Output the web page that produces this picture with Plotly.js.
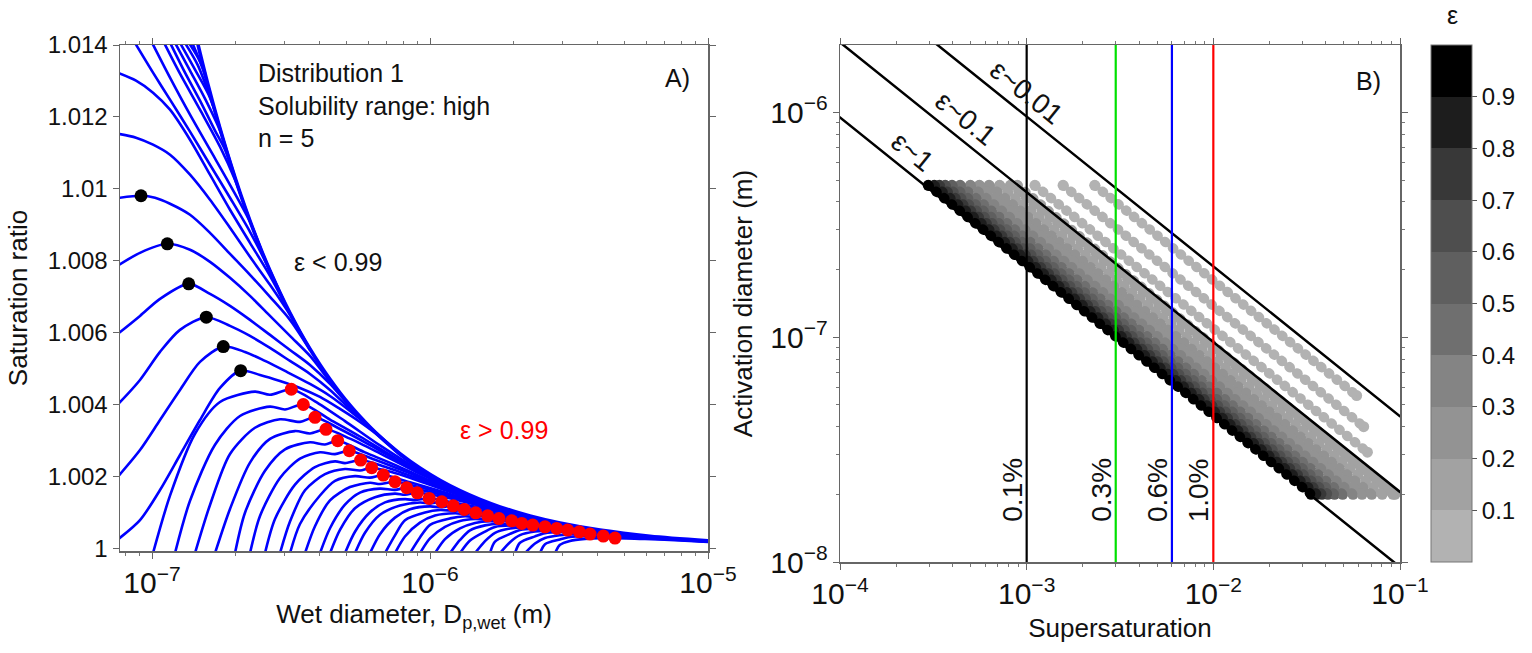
<!DOCTYPE html>
<html><head><meta charset="utf-8">
<script src="https://cdn.plot.ly/plotly-3.0.1.min.js"></script>
<style>
html,body{margin:0;padding:0;background:#fff;}
#chart{width:1532px;height:653px;}
#chart .scatterlayer path.js-line{stroke-linecap:round;stroke-linejoin:round;}
</style></head><body><div id="chart"></div>
<script>
// ---------------- Panel A data: Koehler-type curves (wet diameter in m, saturation ratio) ----------------
const fanCurveDiameters = [
 [8.757e-8,1.0083e-7,1.1606e-7,1.3697e-7,1.6164e-7,1.9076e-7,2.2512e-7,2.6568e-7,3.0082e-7],
 [1.0083e-7,1.1606e-7,1.3697e-7,1.6164e-7,1.9076e-7,2.2512e-7,2.549e-7,2.7691e-7],
 [1.1135e-7,1.2608e-7,1.4879e-7,1.756e-7,1.9882e-7,2.2512e-7,2.4456e-7],
 [1.1702e-7,1.3141e-7,1.4879e-7,1.6847e-7,1.8302e-7,2.0723e-7],
 [1.2196e-7,1.3697e-7,1.5508e-7,1.756e-7,1.9882e-7],
 [1.2713e-7,1.4276e-7,1.6164e-7,1.8302e-7],
 [1.3251e-7,1.4635e-7,1.6847e-7],
 [1.3697e-7,1.4879e-7,1.6164e-7],
 [1.4042e-7,1.5508e-7],
 [7.5e-8,8.757e-8,1.0083e-7,1.1606e-7,1.3697e-7,1.6164e-7,1.9076e-7,2.2512e-7,2.6568e-7,3.1354e-7,3.4062e-7],
 [7.5e-8,8.757e-8,1.0083e-7,1.1606e-7,1.3697e-7,1.6164e-7,1.9076e-7,2.2512e-7,2.6568e-7,3.1354e-7,3.7003e-7]
];
const fanCurveRatios = [
 [1.014011,1.013231,1.012479,1.011588,1.010669,1.009749,1.008802,1.007716,1.006816],
 [1.014011,1.013092,1.012061,1.011086,1.010111,1.009081,1.008042,1.007404],
 [1.014011,1.013203,1.012201,1.011170,1.010251,1.009106,1.008382],
 [1.014011,1.013231,1.012451,1.011616,1.011086,1.009894],
 [1.014011,1.013287,1.012507,1.011616,1.010312],
 [1.014011,1.013315,1.012535,1.011201],
 [1.014011,1.013426,1.012170],
 [1.014011,1.013538,1.012683],
 [1.014011,1.013220],
 [1.013231,1.013008,1.012674,1.012201,1.011365,1.010390,1.009415,1.008496,1.007577,1.006538,1.006017],
 [1.011532,1.011421,1.011226,1.010947,1.010390,1.009694,1.008914,1.008106,1.007326,1.006490,1.005538]
];
const blackCurveDiameters = [
 [7.5e-8,9.127e-8,1.025e-7,1.1606e-7,1.3697e-7,1.6164e-7,1.9076e-7,2.2512e-7,2.6568e-7,3.1354e-7,3.7003e-7],
 [7.5e-8,9.052e-8,1.1349e-7,1.3697e-7,1.6164e-7,1.9076e-7,2.2512e-7,2.6568e-7,3.1354e-7,3.7003e-7,4.3669e-7],
 [7.5e-8,9.052e-8,1.0683e-7,1.3551e-7,1.6164e-7,1.9076e-7,2.2512e-7,2.6568e-7,3.1354e-7,3.7003e-7,4.3669e-7,5.1535e-7],
 [7.5e-8,9.052e-8,1.0683e-7,1.2608e-7,1.5675e-7,1.9076e-7,2.2512e-7,2.6568e-7,3.1354e-7,3.7003e-7,4.3669e-7,5.1535e-7,6.0819e-7],
 [7.5e-8,9.052e-8,1.0683e-7,1.2608e-7,1.4879e-7,1.8046e-7,2.1599e-7,2.549e-7,3.0082e-7,3.7003e-7,4.3669e-7,5.1535e-7,6.0819e-7,7.7972e-7],
 [7.5e-8,9.052e-8,1.0683e-7,1.2608e-7,1.4879e-7,1.756e-7,2.0843e-7,2.4456e-7,2.8862e-7,3.4062e-7,4.0198e-7,4.7439e-7,5.5985e-7,6.607e-7,7.7972e-7,1.0e-6]
];
const blackCurveRatios = [
 [1.009741,1.009805,1.009749,1.009582,1.009276,1.008774,1.008189,1.007604,1.006992,1.006351,1.005515],
 [1.007850,1.008217,1.008468,1.008301,1.007967,1.007521,1.007019,1.006462,1.005905,1.005348,1.004624],
 [1.005950,1.006462,1.006936,1.007354,1.007075,1.006741,1.006351,1.005933,1.005515,1.005097,1.004568,1.003928],
 [1.003980,1.004680,1.005460,1.006072,1.006426,1.006184,1.005905,1.005571,1.005209,1.004847,1.004401,1.003872,1.003365],
 [1.001970,1.002730,1.003565,1.004401,1.005181,1.005607,1.005460,1.005209,1.004930,1.004568,1.004234,1.003816,1.003357,1.002618],
 [1.000230,1.000780,1.001616,1.002591,1.003565,1.004457,1.004939,1.004819,1.004652,1.004457,1.004206,1.003872,1.003510,1.003092,1.002591,1.002006]
];
const redCurveDiameters = [
 [1.008e-7,1.1606e-7,1.4276e-7,1.756e-7,2.3464e-7,2.6568e-7,3.169e-7,3.8567e-7,4.9445e-7,6.607e-7,1.0e-6],
 [1.2096e-7,1.3697e-7,1.6847e-7,2.0723e-7,2.6568e-7,3.0082e-7,3.5006e-7,4.3669e-7,5.5985e-7,7.4809e-7,1.1323e-6],
 [1.4276e-7,1.6164e-7,1.9076e-7,2.3464e-7,2.8862e-7,3.4062e-7,3.8567e-7,4.7439e-7,6.0819e-7,8.1268e-7,1.2301e-6],
 [1.6847e-7,1.9076e-7,2.2512e-7,2.6568e-7,3.268e-7,3.7003e-7,4.2245e-7,5.1535e-7,6.607e-7,8.8285e-7,1.3363e-6],
 [1.9882e-7,2.1599e-7,2.549e-7,3.0082e-7,3.7003e-7,4.1897e-7,4.6544e-7,5.8352e-7,7.4809e-7,1.0e-6,1.513e-6],
 [2.2512e-7,2.4456e-7,2.8862e-7,3.4062e-7,4.0198e-7,4.5515e-7,5.124e-7,6.339e-7,8.1268e-7,1.0864e-6,1.6437e-6],
 [2.549e-7,2.7691e-7,3.268e-7,3.8567e-7,4.5515e-7,4.9445e-7,5.631e-7,6.8863e-7,8.8285e-7,1.1802e-6,1.7856e-6],
 [2.8862e-7,3.1354e-7,3.5502e-7,4.1897e-7,4.9445e-7,5.5985e-7,6.168e-7,7.4809e-7,9.5907e-7,1.2821e-6,1.9398e-6],
 [3.1354e-7,3.4062e-7,4.0198e-7,4.5515e-7,5.3714e-7,6.0819e-7,6.79e-7,8.4704e-7,1.0864e-6,1.4517e-6,2.1964e-6],
 [3.5502e-7,3.8567e-7,4.3669e-7,5.1535e-7,6.0819e-7,6.607e-7,7.4809e-7,9.2017e-7,1.1802e-6,1.577e-6,2.386e-6],
 [4.0198e-7,4.3669e-7,4.9445e-7,5.5985e-7,6.607e-7,7.4809e-7,8.242e-7,1.0e-6,1.2821e-6,1.7132e-6,2.592e-6],
 [4.3669e-7,4.7439e-7,5.3714e-7,6.339e-7,7.4809e-7,8.1268e-7,8.999e-7,1.0864e-6,1.3928e-6,1.8611e-6,2.8158e-6],
 [4.9445e-7,5.3714e-7,6.0819e-7,6.8863e-7,8.1268e-7,8.8285e-7,9.93e-7,1.2301e-6,1.577e-6,2.1073e-6,3.1883e-6],
 [5.3714e-7,5.8352e-7,6.607e-7,7.7972e-7,9.2017e-7,1.0e-6,1.1018e-6,1.3363e-6,1.7132e-6,2.2892e-6,3.4636e-6],
 [6.0819e-7,6.607e-7,7.4809e-7,8.4704e-7,1.0e-6,1.0864e-6,1.2129e-6,1.577e-6,2.1964e-6,3.61e-6],
 [6.8863e-7,7.4809e-7,8.1268e-7,9.5907e-7,1.0864e-6,1.2301e-6,1.3286e-6,1.7132e-6,2.386e-6,3.9218e-6],
 [7.4809e-7,8.1268e-7,9.2017e-7,1.0423e-6,1.2301e-6,1.3363e-6,1.4601e-6,1.8611e-6,2.592e-6,4.2604e-6],
 [8.4704e-7,9.2017e-7,1.0e-6,1.1802e-6,1.3363e-6,1.4517e-6,1.6126e-6,2.1073e-6,2.9349e-6,4.8239e-6],
 [9.2017e-7,1.0e-6,1.1323e-6,1.2821e-6,1.4517e-6,1.6437e-6,1.7709e-6,2.2892e-6,3.1883e-6,5.2405e-6],
 [1.0423e-6,1.1323e-6,1.2821e-6,1.4517e-6,1.6437e-6,1.7856e-6,1.9673e-6,2.4869e-6,3.4636e-6,5.6929e-6],
 [1.1802e-6,1.2821e-6,1.3928e-6,1.577e-6,1.7856e-6,1.9398e-6,2.1372e-6,2.7016e-6,3.7627e-6,6.1845e-6],
 [1.2821e-6,1.3928e-6,1.577e-6,1.7132e-6,2.0218e-6,2.1964e-6,2.3409e-6,3.059e-6,4.2604e-6,6.7185e-6],
 [1.4517e-6,1.577e-6,1.7132e-6,1.9398e-6,2.1964e-6,2.386e-6,2.592e-6,3.3231e-6,4.6283e-6,7.6071e-6],
 [1.6437e-6,1.7132e-6,1.9398e-6,2.1073e-6,2.386e-6,2.592e-6,2.8558e-6,3.61e-6,5.0279e-6,8.2639e-6],
 [1.7856e-6,1.9398e-6,2.1073e-6,2.386e-6,2.7016e-6,2.9349e-6,3.1281e-6,4.0876e-6,5.6929e-6,9.357e-6],
 [2.0218e-6,2.1073e-6,2.386e-6,2.592e-6,2.9349e-6,3.1883e-6,3.4437e-6,4.4405e-6,6.1845e-6,1.0e-5],
 [2.1964e-6,2.386e-6,2.592e-6,2.9349e-6,3.1883e-6,3.4636e-6,3.7627e-6,4.8239e-6,6.7185e-6,1.0e-5],
 [2.4869e-6,2.592e-6,2.9349e-6,3.1883e-6,3.61e-6,3.9218e-6,4.2008e-6,5.462e-6,7.6071e-6,1.0e-5],
 [2.8158e-6,2.9349e-6,3.1883e-6,3.61e-6,4.0876e-6,4.2604e-6,4.6283e-6,5.9336e-6,8.2639e-6,1.0e-5]
];
const redCurveRatios = [
 [0.99986,1.001460,1.003183,1.004067,1.004354,1.004266,1.004421,1.004086,1.003535,1.002858,1.001969],
 [0.99986,1.001319,1.002878,1.003677,1.003937,1.003858,1.003997,1.003577,1.003106,1.002518,1.001735],
 [0.99986,1.001201,1.002621,1.003349,1.003586,1.003513,1.003641,1.003315,1.002869,1.002323,1.001599],
 [0.99986,1.001091,1.002381,1.003042,1.003257,1.003190,1.003306,1.003047,1.002638,1.002137,1.001474],
 [0.99986,1.000986,1.002153,1.002749,1.002944,1.002884,1.002989,1.002663,1.002318,1.001880,1.001298],
 [0.99986,1.000894,1.001953,1.002493,1.002669,1.002616,1.002710,1.002460,1.002137,1.001730,1.001195],
 [0.99986,1.000809,1.001765,1.002255,1.002415,1.002366,1.002451,1.002265,1.001967,1.001596,1.001100],
 [0.99986,1.000738,1.001610,1.002058,1.002203,1.002159,1.002237,1.002089,1.001811,1.001468,1.001011],
 [0.99986,1.000671,1.001465,1.001872,1.002003,1.001961,1.002033,1.001830,1.001590,1.001295,1.000894],
 [0.99986,1.000610,1.001329,1.001699,1.001819,1.001783,1.001847,1.001691,1.001471,1.001192,1.000822],
 [0.99986,1.000554,1.001209,1.001546,1.001655,1.001621,1.001680,1.001565,1.001357,1.001100,1.000758],
 [0.99986,1.000508,1.001109,1.001417,1.001517,1.001487,1.001540,1.001443,1.001248,1.001011,1.000696],
 [0.99986,1.000457,1.000997,1.001273,1.001364,1.001336,1.001384,1.001259,1.001097,1.000891,1.000616],
 [0.99986,1.000426,1.000928,1.001187,1.001270,1.001245,1.001290,1.001192,1.001025,1.000827,1.000568],
 [0.99986,1.000389,1.000849,1.001084,1.001161,1.001137,1.001178,1.001019,1.000805,1.000526],
 [0.99986,1.000356,1.000777,1.000992,1.001062,1.001040,1.001078,1.000942,1.000741,1.000487],
 [0.99986,1.000324,1.000708,1.000905,1.000969,1.000949,1.000983,1.000869,1.000685,1.000448],
 [0.99986,1.000297,1.000648,1.000828,1.000886,1.000868,1.000900,1.000769,1.000607,1.000396],
 [0.99986,1.000271,1.000592,1.000756,1.000809,1.000793,1.000822,1.000710,1.000560,1.000362],
 [0.99986,1.000251,1.000548,1.000700,1.000749,1.000734,1.000760,1.000669,1.000521,1.000337],
 [0.99986,1.000227,1.000495,1.000633,1.000678,1.000664,1.000688,1.000610,1.000479,1.000309],
 [0.99986,1.000211,1.000461,1.000590,1.000631,1.000618,1.000641,1.000543,1.000423,1.000287],
 [0.99986,1.000196,1.000427,1.000546,1.000584,1.000573,1.000593,1.000507,1.000393,1.000253],
 [0.99986,1.000181,1.000395,1.000505,1.000540,1.000530,1.000549,1.000474,1.000365,1.000234],
 [0.99986,1.000165,1.000361,1.000461,1.000494,1.000484,1.000501,1.000415,1.000320,1.000206],
 [0.99986,1.000150,1.000327,1.000418,1.000447,1.000438,1.000454,1.000384,1.000295,1.000189],
 [0.99986,1.000129,1.000281,1.000359,1.000384,1.000376,1.000390,1.000340,1.000267,1.000184],
 [0.99986,1.000110,1.000241,1.000308,1.000329,1.000323,1.000334,1.000290,1.000231,1.000178],
 [0.99986,1.000092,1.000201,1.000256,1.000274,1.000269,1.000279,1.000256,1.000206,1.000173]
];
const envelopeDiameters = [1.4635e-7,1.4879e-7,1.5508e-7,1.6164e-7,1.6847e-7,1.756e-7,1.9076e-7,2.0723e-7,2.2512e-7,2.4456e-7,2.6568e-7,2.8862e-7,3.1354e-7,3.4062e-7,3.7003e-7,4.0198e-7,4.3669e-7,4.7439e-7,5.1535e-7,5.5985e-7,6.0819e-7,6.607e-7,7.1775e-7,7.7972e-7,9.2017e-7,1.0864e-6,1.2821e-6,1.513e-6,1.7856e-6,2.2892e-6,2.9349e-6,4.0876e-6,6.1845e-6,1.0e-5];
const envelopeRatios = [1.014009,1.013778,1.013219,1.012683,1.012169,1.011675,1.010747,1.009893,1.009107,1.008383,1.007716,1.007103,1.006538,1.006019,1.005540,1.005100,1.004695,1.004322,1.003978,1.003662,1.003371,1.003103,1.002856,1.002629,1.002228,1.001887,1.001599,1.001355,1.001148,1.000896,1.000699,1.000502,1.000332,1.000205];
const blackPeakDiameters = [9.127e-8,1.1349e-7,1.3551e-7,1.5675e-7,1.8046e-7,2.0843e-7];
const blackPeakRatios = [1.009805,1.008468,1.007354,1.006426,1.005607,1.004939];
const redPeakDiameters = [3.169e-7,3.5006e-7,3.8567e-7,4.2245e-7,4.6544e-7,5.124e-7,5.631e-7,6.168e-7,6.79e-7,7.4809e-7,8.242e-7,8.999e-7,9.93e-7,1.1018e-6,1.2129e-6,1.3286e-6,1.4601e-6,1.6126e-6,1.7709e-6,1.9673e-6,2.1372e-6,2.3409e-6,2.592e-6,2.8558e-6,3.1281e-6,3.4437e-6,3.7627e-6,4.2008e-6,4.6283e-6];
const redPeakRatios = [1.004421,1.003997,1.003641,1.003306,1.002989,1.002710,1.002451,1.002237,1.002033,1.001847,1.001680,1.001540,1.001384,1.001290,1.001178,1.001078,1.000983,1.000900,1.000822,1.000760,1.000688,1.000641,1.000593,1.000549,1.000501,1.000454,1.000390,1.000334,1.000279];
const panelALabels = ['Distribution 1','Solubility range: high','n = 5'];

// ---------------- Panel B data: activation diameter vs supersaturation ----------------
const rowEpsilon      = [0.016,0.035,0.07,0.11,0.13,0.17,0.22,0.28,0.35,0.45,0.55,0.65,0.75,0.85,0.97];
const rowSsTop        = [2.315e-3,1.567e-3,1.107e-3,8.9e-4,8.18e-4,7.16e-4,6.29e-4,5.58e-4,4.99e-4,4.40e-4,3.98e-4,3.66e-4,3.41e-4,3.20e-4,2.97e-4];
const rowDiamTop      = [4.74e-7,4.74e-7,4.74e-7,4.74e-7,4.74e-7,4.74e-7,4.74e-7,4.74e-7,4.74e-7,4.74e-7,4.74e-7,4.74e-7,4.74e-7,4.74e-7,4.74e-7];
const rowSsBottom     = [0.0586,0.0639,0.0669,0.094,0.0918,0.0803,0.0706,0.0626,0.0560,0.0493,0.0446,0.0411,0.0382,0.0359,0.0334];
const rowDiamBottom   = [5.5e-8,4.0e-8,3.08e-8,2.0e-8,2.0e-8,2.0e-8,2.0e-8,2.0e-8,2.0e-8,2.0e-8,2.0e-8,2.0e-8,2.0e-8,2.0e-8,2.0e-8];
const epsLineLabels   = ['ε~1','ε~0.1','ε~0.01'];
const epsLineSs       = [1e-4, 1e-1];
const epsLineDiamLow  = [9.5e-7, 2.05e-6, 4.45e-6];   // at S = 1e-4
const epsLineDiamHigh = [9.5e-9, 2.05e-8, 4.45e-8];   // at S = 1e-1
const ssLineValues    = [0.001, 0.003, 0.006, 0.01];
const ssLineLabels    = ['0.1%','0.3%','0.6%','1.0%'];
const ssLineDiamRange = [1e-8, 2e-6];
const colorbarTicks   = [0.1,0.2,0.3,0.4,0.5,0.6,0.7,0.8,0.9];

// ---------------- styles ----------------
const W = 1532, H = 653;
const FONT = '"Liberation Sans", Arial, Helvetica, sans-serif';
const BLUE = '#0000ff';
const ssLineColors = ['#000000','#00e000','#0000ff','#ff0000'];
const bandColors = ['#b2b2b2','#a2a2a2','#939393','#848484','#6f6f6f','#5f5f5f','#4e4e4e','#383838','#1d1d1d','#000000'];
const colorOf = e => bandColors[Math.min(9, Math.floor(e*10))];
const discreteScale = [];
bandColors.forEach((c,k)=>{discreteScale.push([k/10,c]); discreteScale.push([(k+1)/10,c]);});
const px = x => x/W, py = y => 1 - y/H;

const traces = [];
const curveLine = {color:BLUE, width:2.6, shape:'spline', smoothing:0.8};
function addCurves(ds, ss){ ds.forEach((d,i)=>traces.push({type:'scatter',mode:'lines',x:d,y:ss[i],xaxis:'x',yaxis:'y',line:curveLine,hoverinfo:'skip'})); }
addCurves(fanCurveDiameters, fanCurveRatios);
addCurves(blackCurveDiameters, blackCurveRatios);
addCurves(redCurveDiameters, redCurveRatios);
traces.push({type:'scatter',mode:'lines',x:envelopeDiameters,y:envelopeRatios,xaxis:'x',yaxis:'y',line:{color:BLUE,width:3.6,shape:'spline',smoothing:0.8},hoverinfo:'skip'});
traces.push({type:'scatter',mode:'markers',x:blackPeakDiameters,y:blackPeakRatios,xaxis:'x',yaxis:'y',marker:{color:'#000',size:13}});
traces.push({type:'scatter',mode:'markers',x:redPeakDiameters,y:redPeakRatios,xaxis:'x',yaxis:'y',marker:{color:'#ff0000',size:13}});

// Panel B: colour-bar carrier (row end points)
traces.push({type:'scatter',mode:'markers',
  x:rowSsTop.concat(rowSsBottom), y:rowDiamTop.concat(rowDiamBottom), xaxis:'x2',yaxis:'y2',
  marker:{color:rowEpsilon.concat(rowEpsilon),colorscale:discreteScale,cmin:0,cmax:1,size:11,
    colorbar:{x:1431/W,xanchor:'left',xref:'paper',xpad:0,y:py(45),yanchor:'top',yref:'paper',ypad:0,
      len:517,lenmode:'pixels',thickness:41,thicknessmode:'pixels',outlinecolor:'#777',outlinewidth:1,
      tickvals:colorbarTicks,ticks:'outside',ticklen:5,tickcolor:'#555',tickfont:{size:24,family:FONT,color:'#111'}}}});
rowEpsilon.forEach((e,i)=>traces.push({type:'scatter',mode:'lines',x:[rowSsTop[i],rowSsBottom[i]],y:[rowDiamTop[i],rowDiamBottom[i]],
  xaxis:'x2',yaxis:'y2',line:{color:colorOf(e),width:10,dash:'1px,9px'},hoverinfo:'skip'}));
epsLineLabels.forEach((l,i)=>traces.push({type:'scatter',mode:'lines',x:epsLineSs,y:[epsLineDiamLow[i],epsLineDiamHigh[i]],
  xaxis:'x2',yaxis:'y2',line:{color:'#000',width:2.5},hoverinfo:'skip'}));
ssLineValues.forEach((v,i)=>traces.push({type:'scatter',mode:'lines',x:[v,v],y:ssLineDiamRange,
  xaxis:'x2',yaxis:'y2',line:{color:ssLineColors[i],width:2.2},hoverinfo:'skip'}));

// ---------------- layout ----------------
const axisCommon = {showline:true,linecolor:'#666',linewidth:1.5,mirror:'ticks',ticks:'outside',ticklen:6,tickcolor:'#666',
  showgrid:false,zeroline:false,tickfont:{size:24,family:FONT,color:'#111'}};
const logMinor = {ticks:'outside',ticklen:3,tickcolor:'#777',dtick:'D1',showgrid:false};
const annotations = [];
const txt = (t,x,y,o)=>annotations.push(Object.assign({text:t,x:x,y:y,xref:'paper',yref:'paper',showarrow:false,
  font:{size:25,family:FONT,color:'#111'}},o||{}));
panelALabels.forEach((t,i)=>txt(t,px(256),py([73,106,138][i]),{xanchor:'left',yanchor:'middle'}));
txt('A)',px(677),py(78),{xanchor:'center',yanchor:'middle'});
txt('ε &lt; 0.99',px(292),py(262),{xanchor:'left',yanchor:'middle'});
txt('ε &gt; 0.99',px(458),py(430),{xanchor:'left',yanchor:'middle',font:{size:25,family:FONT,color:'#ff0000'}});
txt('B)',px(1368),py(81),{xanchor:'center',yanchor:'middle'});
txt('ε',px(1452),py(15),{xanchor:'center',yanchor:'middle'});
const epsLabelPos = [[2.43e-4,6.67e-7],[4.73e-4,9.44e-7],[1.004e-3,1.23e-6]];
epsLineLabels.forEach((l,i)=>annotations.push({text:l,xref:'x2',yref:'y2',x:Math.log10(epsLabelPos[i][0]),y:Math.log10(epsLabelPos[i][1]),
  showarrow:false,textangle:38.7,font:{size:28,family:FONT,color:'#111'},xanchor:'center',yanchor:'middle'}));
ssLineLabels.forEach((l,i)=>annotations.push({text:l,xref:'x2',yref:'y2',x:Math.log10(ssLineValues[i]),y:Math.log10(2.09e-8),
  xshift:-15,showarrow:false,textangle:-90,font:{size:28,family:FONT,color:'#111'},xanchor:'center',yanchor:'middle'}));

const layout = {
  width:W,height:H,margin:{l:0,r:0,t:0,b:0},paper_bgcolor:'#fff',plot_bgcolor:'#fff',showlegend:false,
  font:{family:FONT,color:'#111'},
  xaxis:Object.assign({},axisCommon,{domain:[px(120),px(708)],anchor:'y',type:'log',range:[Math.log10(7.67e-8),-5],dtick:1,
    exponentformat:'power',minor:logMinor,title:{text:'Wet diameter, D<sub>p,wet</sub> (m)',font:{size:26,family:FONT,color:'#111'},standoff:5}}),
  yaxis:Object.assign({},axisCommon,{domain:[py(551),py(45)],anchor:'x',range:[0.99992,1.014],dtick:0.002,tick0:1,
    title:{text:'Saturation ratio',font:{size:26,family:FONT,color:'#111'},standoff:12}}),
  xaxis2:Object.assign({},axisCommon,{domain:[px(840),px(1400)],anchor:'y2',type:'log',range:[-4,-1],dtick:1,
    exponentformat:'power',minor:logMinor,title:{text:'Supersaturation',font:{size:26,family:FONT,color:'#111'},standoff:9}}),
  yaxis2:Object.assign({},axisCommon,{domain:[py(562),py(45)],anchor:'x2',type:'log',range:[-8,-5.70],dtick:1,
    exponentformat:'power',minor:logMinor,title:{text:'Activation diameter (m)',font:{size:26,family:FONT,color:'#111'},standoff:10}}),
  annotations:annotations
};
Plotly.newPlot('chart',traces,layout,{displayModeBar:false,staticPlot:true});
</script></body></html>
